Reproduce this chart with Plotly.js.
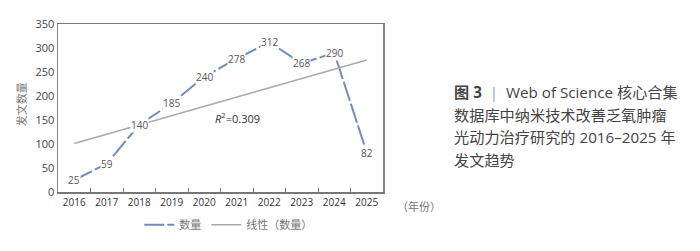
<!DOCTYPE html>
<html>
<head>
<meta charset="utf-8">
<script src="https://cdn.plot.ly/plotly-3.0.1.min.js"></script>
<style>html,body{margin:0;padding:0;background:#fff;}#chart{width:700px;height:251px;}</style>
</head>
<body>
<div id="chart"></div>
<script>
const years = ['2016','2017','2018','2019','2020','2021','2022','2023','2024','2025'];
const counts = [25, 59, 140, 185, 240, 278, 312, 268, 290, 82];
const seriesName = '数量';
const trendName = '线性（数量）';
const r2Text = '<i>R</i><sup>2</sup>=0.309';
const yTitle = '发文数量';
const xUnit = '（年份）';
const captionLines = [
  '<b>图 3</b>  <span style="color:#999">|</span>  Web of Science 核心合集',
  '数据库中纳米技术改善乏氧肿瘤',
  '光动力治疗研究的 2016–2025 年',
  '发文趋势'
];

// least-squares trend line from the data
const n = counts.length;
const xs = counts.map((_, i) => i);
const mx = xs.reduce((a, b) => a + b, 0) / n;
const my = counts.reduce((a, b) => a + b, 0) / n;
let sxy = 0, sxx = 0;
xs.forEach((x, i) => { sxy += (x - mx) * (counts[i] - my); sxx += (x - mx) * (x - mx); });
const slope = sxy / sxx, icpt = my - slope * mx;
const trend = xs.map(x => icpt + slope * x);

const FONT = 'Open Sans, "Noto Sans CJK SC", sans-serif';

const traces = [
  {x: years, y: counts, type: 'scatter', mode: 'lines', name: seriesName,
   line: {color: '#6f8cc0', width: 2, dash: '20px,3px'}},
  {x: years, y: trend, type: 'scatter', mode: 'lines', name: trendName,
   line: {color: '#aaaaaa', width: 1.5}}
];

const annotations = counts.map((v, i) => ({
  x: i, y: v, xref: 'x', yref: 'y', text: String(v), showarrow: false,
  bgcolor: '#ffffff', borderpad: 0, font: {family: FONT, size: 10, color: '#555'}
}));
annotations.push({x: 0.477, y: 155, xref: 'paper', yref: 'y', xanchor: 'left', yanchor: 'middle',
  text: r2Text, showarrow: false, font: {family: FONT, size: 11, color: '#333'}});
annotations.push({x: -0.1415, y: 0.52, xref: 'paper', yref: 'paper', textangle: -90,
  text: yTitle, showarrow: false, font: {family: FONT, size: 11, color: '#777'}});
annotations.push({x: 1.11, y: -0.087, xref: 'paper', yref: 'paper', xanchor: 'center', yanchor: 'middle',
  text: xUnit, showarrow: false, font: {family: FONT, size: 11, color: '#777'}});
const capY = [94, 117, 140, 163];
captionLines.forEach((t, i) => {
  annotations.push({x: 1.212, y: (196 - capY[i]) / 172, xref: 'paper', yref: 'paper',
    xanchor: 'left', yanchor: 'middle', align: 'left', text: t, showarrow: false,
    font: {family: FONT, size: 15.2, color: '#444'}});
});

const layout = {
  width: 700, height: 251,
  margin: {l: 58, r: 317, t: 24, b: 55},
  paper_bgcolor: '#ffffff', plot_bgcolor: '#ffffff',
  font: {family: FONT, size: 11, color: '#444'},
  showlegend: true,
  legend: {orientation: 'h', x: 0.25, y: -0.195, xanchor: 'left', yanchor: 'middle',
    font: {family: FONT, size: 11, color: '#777'}, itemwidth: 30, tracegroupgap: 0,
    bgcolor: 'rgba(0,0,0,0)'},
  xaxis: {type: 'category', showgrid: false, zeroline: false,
    showline: true, linecolor: '#777', linewidth: 1.5, mirror: true,
    ticks: 'inside', ticklen: 4, tickcolor: '#777', tickson: 'boundaries',
    tickangle: 0, tickfont: {family: FONT, size: 10, color: '#333'}, range: [-0.5, 9.5]},
  yaxis: {range: [0, 350], dtick: 50, showgrid: false, zeroline: false,
    showline: true, linecolor: '#888', linewidth: 1.5, mirror: true,
    ticks: '', tickfont: {family: FONT, size: 11, color: '#444'}},
  annotations: annotations
};

Plotly.newPlot('chart', traces, layout, {displayModeBar: false, staticPlot: true});
</script>
</body>
</html>
